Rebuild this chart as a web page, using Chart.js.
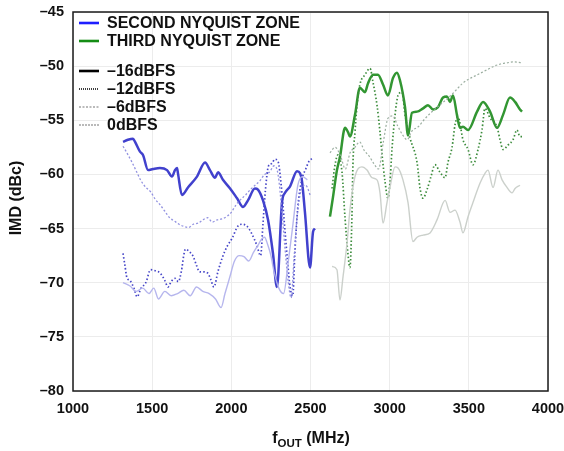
<!DOCTYPE html>
<html><head><meta charset="utf-8">
<script src="https://cdn.jsdelivr.net/npm/chart.js@4.4.0/dist/chart.umd.min.js"></script>
<style>html,body{margin:0;padding:0;background:#fff}#wrap{width:564px;height:451px;position:relative}</style>
</head><body><div id="wrap"><canvas id="c" width="564" height="451"></canvas></div>
<script>
// ---- data ----
const xTickValues = [1000,1500,2000,2500,3000,3500,4000];
const yTickValues = [-45,-50,-55,-60,-65,-70,-75,-80];
const zoneLabels = ['SECOND NYQUIST ZONE','THIRD NYQUIST ZONE'];
const levelLabels = ['\u201316dBFS','\u201312dBFS','\u20136dBFS','0dBFS'];

// Second Nyquist zone
const blue16F = [1316,1347,1379,1392,1423,1442,1474,1505,1549,1594,1625,1644,1657,1663,1688,1726,1783,1834,1865,1897,1916,1947,1992,2036,2074,2105,2149,2168,2200,2232,2263,2288,2320,2339,2371,2415,2434,2446,2465,2497,2516,2528];
const blue16V = [-57.0,-56.8,-56.7,-57.0,-57.9,-58.2,-59.6,-59.5,-59.4,-59.6,-60.2,-59.6,-59.4,-59.9,-61.9,-61.2,-60.2,-58.9,-59.6,-60.3,-59.8,-60.5,-61.3,-62.2,-63.0,-62.4,-61.3,-61.4,-62.4,-64.2,-67.3,-70.4,-62.6,-61.7,-61.1,-59.7,-59.9,-60.6,-63.5,-68.6,-65.3,-65.0];

const blue12F = [1316,1328,1340,1360,1385,1405,1430,1460,1490,1520,1550,1580,1600,1620,1645,1665,1685,1698,1710,1740,1760,1780,1800,1820,1850,1870,1890,1915,1945,1975,2005,2040,2070,2100,2130,2160,2185,2200,2215,2235,2255,2275,2295,2315,2335,2355,2372,2388,2402,2420,2445,2470,2490,2512];
const blue12V = [-67.3,-68.4,-69.5,-69.8,-70.5,-71.3,-70.5,-70.0,-68.8,-68.9,-69.1,-69.8,-70.4,-69.9,-69.6,-69.9,-68.9,-67.6,-66.9,-67.2,-67.6,-68.4,-69.0,-69.0,-69.1,-69.7,-70.4,-69.0,-67.6,-66.6,-65.9,-64.8,-64.6,-64.8,-65.5,-66.5,-67.5,-64.5,-61.5,-59.2,-59.0,-58.6,-58.8,-61.0,-64.5,-68.0,-70.5,-71.2,-67.0,-63.0,-60.5,-59.5,-58.8,-58.5];

const blue6F = [1316,1340,1370,1400,1430,1460,1490,1520,1550,1580,1610,1640,1670,1700,1730,1760,1790,1820,1850,1880,1910,1940,1970,2000,2030,2060,2090,2120,2150,2180,2210,2240,2270,2295,2320,2340,2360,2378,2395,2415,2440,2470,2500];
const blue6V = [-57.4,-58.0,-58.8,-59.7,-60.6,-61.2,-61.6,-62.3,-62.8,-63.4,-64.0,-64.3,-64.6,-64.8,-64.9,-64.6,-64.5,-64.2,-64.0,-64.4,-64.2,-64.1,-63.9,-63.5,-62.8,-62.3,-61.9,-61.4,-61.0,-60.6,-60.0,-59.8,-59.2,-60.0,-63.5,-67.0,-70.0,-71.4,-68.0,-64.0,-61.5,-61.0,-62.0];

const blue0F = [1316,1360,1400,1440,1480,1510,1540,1580,1620,1660,1700,1740,1780,1820,1860,1900,1935,1960,1990,2020,2050,2080,2110,2140,2170,2190,2210,2230,2250,2270,2300,2330,2360,2390,2420,2450,2480];
const blue0V = [-70.0,-70.3,-70.8,-70.5,-71.0,-70.5,-71.5,-70.8,-71.2,-71.0,-70.7,-71.2,-70.4,-70.8,-71.0,-71.5,-72.3,-71.0,-69.5,-68.0,-67.5,-67.6,-68.0,-67.2,-66.5,-66.0,-65.8,-66.5,-67.5,-69.0,-70.5,-71.0,-68.0,-64.5,-61.0,-60.2,-60.5];

// Third Nyquist zone
const green16F = [2623,2642,2667,2686,2718,2737,2749,2781,2812,2844,2863,2895,2926,2958,2989,3021,3046,3065,3097,3116,3141,3173,3211,3242,3274,3305,3337,3362,3381,3400,3425,3444,3463,3495,3552,3590,3634,3678,3716,3760,3792,3823,3836];
const green16V = [-63.9,-62.1,-59.6,-58.4,-55.7,-56.1,-56.5,-54.5,-52.0,-52.4,-51.6,-50.8,-50.8,-51.7,-52.7,-51.1,-50.6,-51.3,-53.8,-56.4,-54.3,-54.2,-53.9,-53.6,-54.0,-53.8,-52.9,-52.8,-53.3,-52.7,-54.5,-55.7,-55.6,-55.9,-54.2,-53.3,-54.2,-55.7,-54.5,-52.9,-53.3,-54.0,-54.2];

const green12F = [2636,2655,2674,2699,2718,2737,2749,2762,2768,2781,2794,2812,2844,2876,2895,2920,2939,2952,2971,2989,3002,3015,3034,3053,3078,3097,3128,3173,3192,3211,3236,3261,3286,3318,3350,3368,3394,3413,3432,3463,3495,3526,3558,3583,3602,3634,3678,3697,3716,3747,3779,3804,3823,3836];
const green12V = [-61.3,-59.1,-58.2,-59.8,-64.0,-67.4,-68.6,-63.7,-59.1,-56.1,-53.6,-51.7,-50.8,-50.2,-51.5,-53.6,-56.1,-58.2,-60.7,-62.2,-60.7,-57.6,-54.5,-52.7,-52.4,-54.5,-56.6,-58.9,-61.3,-62.2,-61.4,-60.2,-59.1,-59.8,-60.3,-58.9,-57.5,-55.4,-54.7,-56.8,-57.7,-59.1,-57.7,-55.9,-53.9,-54.8,-55.6,-56.8,-57.7,-57.3,-56.8,-55.9,-56.5,-56.5];

const green6F = [2623,2655,2690,2720,2750,2780,2810,2840,2870,2900,2930,2960,2990,3020,3050,3080,3110,3140,3180,3220,3260,3300,3340,3380,3420,3460,3500,3540,3580,3620,3660,3700,3740,3780,3836];
const green6V = [-58.0,-57.5,-58.3,-59.5,-58.0,-57.5,-57.0,-57.8,-58.3,-59.0,-59.5,-57.0,-54.8,-54.6,-55.5,-56.3,-56.8,-56.0,-55.6,-54.9,-54.3,-53.8,-53.3,-52.8,-52.2,-51.6,-51.2,-50.9,-50.6,-50.3,-50.0,-49.8,-49.7,-49.6,-49.7];

const green0F = [2636,2667,2686,2705,2731,2749,2781,2825,2857,2888,2920,2939,2958,2983,3002,3034,3053,3084,3116,3147,3173,3211,3255,3299,3350,3381,3413,3444,3463,3495,3526,3571,3602,3621,3653,3684,3710,3741,3773,3792,3823];
const green0V = [-68.5,-68.8,-71.6,-69.5,-66.3,-63.3,-60.2,-59.3,-59.6,-60.3,-60.5,-61.7,-64.5,-62.6,-61.2,-59.3,-59.4,-60.5,-62.6,-66.2,-65.8,-65.6,-65.4,-64.2,-62.4,-63.5,-63.3,-64.4,-65.4,-63.9,-62.6,-60.8,-59.9,-59.6,-61.2,-59.6,-60.5,-61.2,-61.7,-61.3,-61.0];

// ---- build ----
const pts = (f, v) => f.map((x, i) => ({x: x, y: v[i]}));
const FONT = '"Liberation Sans", Arial, Helvetica, sans-serif';

function ds(label, f, v, color, width, dash) {
  return {label, data: pts(f, v), borderColor: color, borderWidth: width,
    borderDash: dash, pointRadius: 0, cubicInterpolationMode: 'monotone', fill: false};
}

const datasets = [
  ds('2nd 0dBFS', blue0F, blue0V, 'rgba(178,178,236,0.95)', 1.4, []),
  ds('2nd -6dBFS', blue6F, blue6V, 'rgba(140,140,222,0.95)', 1.3, [2,2]),
  ds('2nd -12dBFS', blue12F, blue12V, 'rgb(70,70,200)', 1.7, [1.5,2.2]),
  ds('2nd -16dBFS', blue16F, blue16V, 'rgb(65,65,205)', 2.5, []),
  ds('3rd 0dBFS', green0F, green0V, 'rgba(200,205,200,0.95)', 1.4, []),
  ds('3rd -6dBFS', green6F, green6V, 'rgba(150,170,155,0.95)', 1.2, [2,2]),
  ds('3rd -12dBFS', green12F, green12V, 'rgb(60,140,60)', 1.7, [1.5,2.2]),
  ds('3rd -16dBFS', green16F, green16V, 'rgb(50,150,50)', 2.5, [])
];

const legendItems = [
  {t: zoneLabels[0], y: 23, c: 'rgb(30,30,255)', w: 2.6, d: []},
  {t: zoneLabels[1], y: 41, c: 'rgb(20,140,20)', w: 2.6, d: []},
  {t: levelLabels[0], y: 71, c: '#000', w: 2.6, d: []},
  {t: levelLabels[1], y: 89, c: '#000', w: 1.3, d: [1,1]},
  {t: levelLabels[2], y: 107, c: '#777', w: 1.2, d: [2,1.5]},
  {t: levelLabels[3], y: 125, c: '#777', w: 1.2, d: [2,1]}
];

const decor = {
  id: 'decor',
  afterDraw(chart) {
    const ctx = chart.ctx, a = chart.chartArea;
    ctx.save();
    ctx.strokeStyle = '#1a1a1a'; ctx.lineWidth = 1.5; ctx.setLineDash([]);
    ctx.strokeRect(a.left, a.top, a.right - a.left, a.bottom - a.top);
    ctx.font = 'bold 16px ' + FONT; ctx.textBaseline = 'middle'; ctx.textAlign = 'left';
    legendItems.forEach(it => {
      ctx.beginPath(); ctx.strokeStyle = it.c; ctx.lineWidth = it.w; ctx.setLineDash(it.d);
      ctx.moveTo(79, it.y); ctx.lineTo(99, it.y); ctx.stroke();
      ctx.fillStyle = '#111'; ctx.fillText(it.t, 107, it.y + 1);
    });
    ctx.setLineDash([]);
    ctx.save();
    ctx.translate(17, 198);
    ctx.rotate(-Math.PI / 2);
    ctx.textAlign = 'center'; ctx.textBaseline = 'middle';
    ctx.font = 'bold 16px ' + FONT; ctx.fillStyle = '#111';
    ctx.fillText('IMD (dBc)', 0, 0);
    ctx.restore();
    const big = 'bold 16px ' + FONT, small = 'bold 11.5px ' + FONT;
    ctx.textAlign = 'left'; ctx.textBaseline = 'alphabetic'; ctx.fillStyle = '#111';
    ctx.font = big; const w1 = ctx.measureText('f').width, w3 = ctx.measureText(' (MHz)').width;
    ctx.font = small; const w2 = ctx.measureText('OUT').width;
    let x0 = 311 - (w1 + w2 + w3) / 2; const yb = 443;
    ctx.font = big; ctx.fillText('f', x0, yb);
    ctx.font = small; ctx.fillText('OUT', x0 + w1, yb + 3.5);
    ctx.font = big; ctx.fillText(' (MHz)', x0 + w1 + w2, yb);
    ctx.restore();
  }
};

new Chart(document.getElementById('c'), {
  type: 'line',
  data: {datasets},
  options: {
    responsive: false, animation: false, devicePixelRatio: 1,
    layout: {padding: {left: 0, right: 16, top: 12, bottom: 0}},
    plugins: {legend: {display: false}, tooltip: {enabled: false}},
    scales: {
      x: {type: 'linear', min: 1000, max: 4000,
        afterBuildTicks: s => { s.ticks = xTickValues.map(v => ({value: v})); },
        afterFit: s => { s.height = 60; s.paddingLeft = 0; s.paddingRight = 0; },
        grid: {color: '#ececec', drawTicks: false},
        border: {display: false},
        ticks: {padding: 9, color: '#111', font: {family: FONT, weight: 'bold', size: 14.5},
          callback: v => String(v)}
      },
      y: {type: 'linear', min: -80, max: -45,
        afterBuildTicks: s => { s.ticks = yTickValues.map(v => ({value: v})); },
        afterFit: s => { s.width = 73; s.paddingTop = 0; s.paddingBottom = 0; },
        grid: {color: '#ececec', drawTicks: false},
        border: {display: false},
        ticks: {padding: 9, color: '#111', font: {family: FONT, weight: 'bold', size: 14.5},
          callback: v => (v < 0 ? '\u2013' : '') + Math.abs(v)}
      }
    }
  },
  plugins: [decor]
});
</script></body></html>
